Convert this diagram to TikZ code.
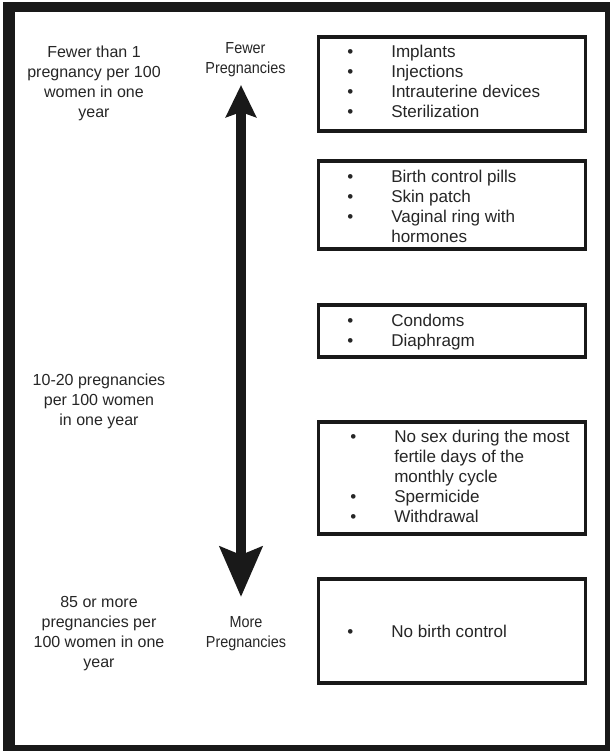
\documentclass[tikz,border=0pt]{standalone}
\usepackage{fontspec}
\setmainfont{Liberation Sans}
\newfontfamily\narrowfont[FakeStretch=0.9]{Liberation Sans}
\usetikzlibrary{arrows.meta}
\newcommand\lbul{\makebox[33pt][l]{•}}
\begin{document}
\begin{tikzpicture}[x=0.75pt,y=-0.75pt,
  listbox/.style={draw=black!90, line width=2.6pt, rectangle, inner sep=0pt, minimum width=199.9pt},
  listtext/.style={anchor=base west, inner sep=0pt, text=black!85, font=\fontsize{12.8}{15}\selectfont},
  sidetext/.style={anchor=base, inner sep=0pt, text=black!85, font=\fontsize{12}{15}\selectfont},
  axistext/.style={anchor=base, inner sep=0pt, text=black!85, font=\narrowfont\fontsize{12}{15}\selectfont},
  scalearrow/.style={line width=7.5pt, draw=black!90,
    arrows={Stealth[length=24pt,width=22.5pt,inset=3.75pt]-Stealth[length=37.5pt,width=31.5pt,inset=6pt]}}
]
\useasboundingbox (0,0) rectangle (610,751);
\fill[white] (0,0) rectangle (610,751);
% outer frame
\fill[black!90] (3,2) rectangle (611,752);
\fill[white] (15,12) rectangle (605,745);

% left column texts
\node[sidetext] (l1) at (94,57.5) {\begin{tabular}[t]{@{}c@{}}Fewer than 1\\ pregnancy per 100\\ women in one\\ year\end{tabular}};
\node[sidetext] (l2) at (99,385.5) {\begin{tabular}[t]{@{}c@{}}10-20 pregnancies\\ per 100 women\\ in one year\end{tabular}};
\node[sidetext] (l3) at (99,607.5) {\begin{tabular}[t]{@{}c@{}}85 or more\\ pregnancies per\\ 100 women in one\\ year\end{tabular}};

% axis labels
\node[axistext] (fewer) at (245.5,53.5) {\begin{tabular}[t]{@{}c@{}}Fewer\\ Pregnancies\end{tabular}};
\node[axistext] (more) at (246,627.5) {\begin{tabular}[t]{@{}c@{}}More\\ Pregnancies\end{tabular}};

% arrow
\coordinate (atop) at (241,85);
\coordinate (abot) at (241,597);
\draw[scalearrow] (atop) -- (abot);

% boxes
\node[listbox, minimum height=70.5pt] (b1) at (452,84) {};
\node[listbox, minimum height=66pt] (b2) at (452,205) {};
\node[listbox, minimum height=39pt] (b3) at (452,331) {};
\node[listbox, minimum height=84pt] (b4) at (452,478) {};
\node[listbox, minimum height=78pt] (b5) at (452,631) {};

% box texts
\node[listtext] (t1) at (347,57.5) {\begin{tabular}[t]{@{}l@{}}\lbul Implants\\ \lbul Injections\\ \lbul Intrauterine devices\\ \lbul Sterilization\end{tabular}};
\node[listtext] (t2) at (347,182.5) {\begin{tabular}[t]{@{}l@{}}\lbul Birth control pills\\ \lbul Skin patch\\ \lbul Vaginal ring with\\ \hspace*{33pt}hormones\end{tabular}};
\node[listtext] (t3) at (347,326.5) {\begin{tabular}[t]{@{}l@{}}\lbul Condoms\\ \lbul Diaphragm\end{tabular}};
\node[listtext] (t4) at (350,442.5) {\begin{tabular}[t]{@{}l@{}}\lbul No sex during the most\\ \hspace*{33pt}fertile days of the\\ \hspace*{33pt}monthly cycle\\ \lbul Spermicide\\ \lbul Withdrawal\end{tabular}};
\node[listtext] (t5) at (347,637.5) {\begin{tabular}[t]{@{}l@{}}\lbul No birth control\end{tabular}};
\end{tikzpicture}
\end{document}
